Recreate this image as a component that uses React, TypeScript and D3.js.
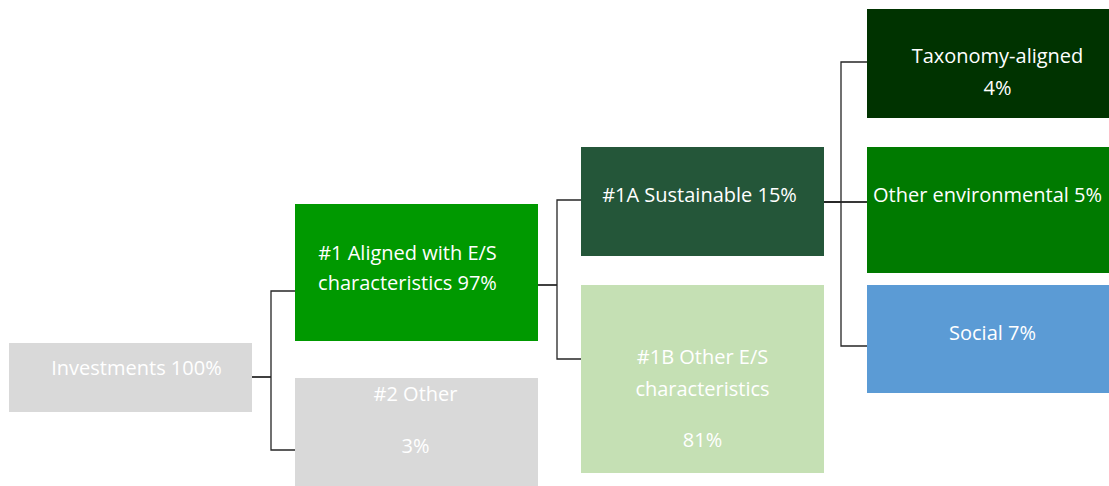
import { useRef, useEffect } from 'react';
import * as d3 from 'd3';

const WIDTH = 1109;
const HEIGHT = 486;
const FONT = '"Open Sans", "Noto Sans", sans-serif';

// node data
const ids = ['inv', 'es', 'other', 'sust', 'oes', 'tax', 'env', 'soc'];
const labels = [
	['Investments 100%'],
	['#1 Aligned with E/S', 'characteristics 97%'],
	['#2 Other', '3%'],
	['#1A Sustainable 15%'],
	['#1B Other E/S', 'characteristics', '81%'],
	['Taxonomy-aligned', '4%'],
	['Other environmental 5%'],
	['Social 7%'],
];
const shares = [100, 97, 3, 15, 81, 4, 5, 7];
const levels = [0, 1, 1, 2, 2, 3, 3, 3];
const parents = ['', 'inv', 'inv', 'es', 'es', 'sust', 'sust', 'sust'];
const fills = ['#d9d9d9', '#009900', '#d9d9d9', '#245639', '#c5e0b4', '#003300', '#007a00', '#5b9bd5'];

// layout (box top / bottom, connector y, text baselines, text shift)
const boxTop = [343, 204, 378, 147, 285, 9, 147, 285];
const boxBottom = [412, 341, 486, 256, 473, 118, 273, 393];
const linkY = [377, 291, 450, 200, 359, 62, 202, 346];
const outY = [377, 285, 0, 202, 0, 0, 0, 0];
const baselines = [[375], [260, 290], [401, 453], [202], [364, 396, 447], [63, 95], [202], [340]];
const textDx = [6, -9, -1, -3, 0, 9, 0, 4];
const textAnchor = ['middle', 'middle', 'middle', 'middle', 'middle', 'middle', 'start', 'middle'];

const Chart = () => {
	const ref = useRef<SVGSVGElement>(null);

	useEffect(() => {
		const svg = d3.select(ref.current);
		svg.selectAll('*').remove();

		const boxW = 243;
		const x = d3.scaleLinear().domain([0, 1]).range([9, 295]);

		const nodes = ids.map((id, i) => ({
			id,
			lines: labels[i],
			share: shares[i],
			level: levels[i],
			parent: parents[i],
			fill: fills[i],
			x0: x(levels[i]),
			x1: x(levels[i]) + boxW,
			y0: boxTop[i],
			y1: boxBottom[i],
			ly: linkY[i],
			oy: outY[i],
			base: baselines[i],
			dx: textDx[i],
			anchor: textAnchor[i],
		}));
		const byId = new Map(nodes.map(n => [n.id, n]));

		// elbow connectors
		const line = d3.line();
		const links = svg.append('g').attr('fill', 'none').attr('stroke', '#262626').attr('stroke-width', 1.3);
		nodes.filter(n => n.parent).forEach(n => {
			const p = byId.get(n.parent)!;
			const mx = p.level === 2 ? p.x1 + 17 : p.x1 + 19;
			links.append('path')
				.attr('d', line([[p.x1, p.oy], [mx, p.oy]]));
			links.append('path')
				.attr('d', line([[mx, n.ly], [mx, p.oy], [mx, n.ly], [n.x0, n.ly]]));
		});
		// outgoing stub of 1A runs to the next column
		const s = byId.get('sust')!;
		links.append('path').attr('d', line([[s.x1, s.oy], [x(3), s.oy]]));

		// boxes
		const g = svg.append('g').selectAll('g').data(nodes).join('g');
		g.append('rect')
			.attr('x', d => d.x0)
			.attr('y', d => d.y0)
			.attr('width', d => d.x1 - d.x0)
			.attr('height', d => d.y1 - d.y0)
			.attr('fill', d => d.fill);

		g.each(function (d) {
			const t = d3.select(this);
			d.lines.forEach((ln, k) => {
				t.append('text')
					.attr('x', d.anchor === 'start' ? d.x0 + 6 : (d.x0 + d.x1) / 2 + d.dx)
					.attr('y', d.base[k])
					.attr('text-anchor', d.anchor)
					.attr('fill', '#ffffff')
					.attr('font-family', FONT)
					.attr('font-size', 20)
					.text(ln);
			});
		});
	}, []);

	return (
		<svg
			ref={ref}
			width={WIDTH}
			height={HEIGHT}
			style={{ position: 'absolute', left: 0, top: 0, background: '#ffffff' }}
		/>
	);
};

export default function App() {
	return <Chart />;
}
